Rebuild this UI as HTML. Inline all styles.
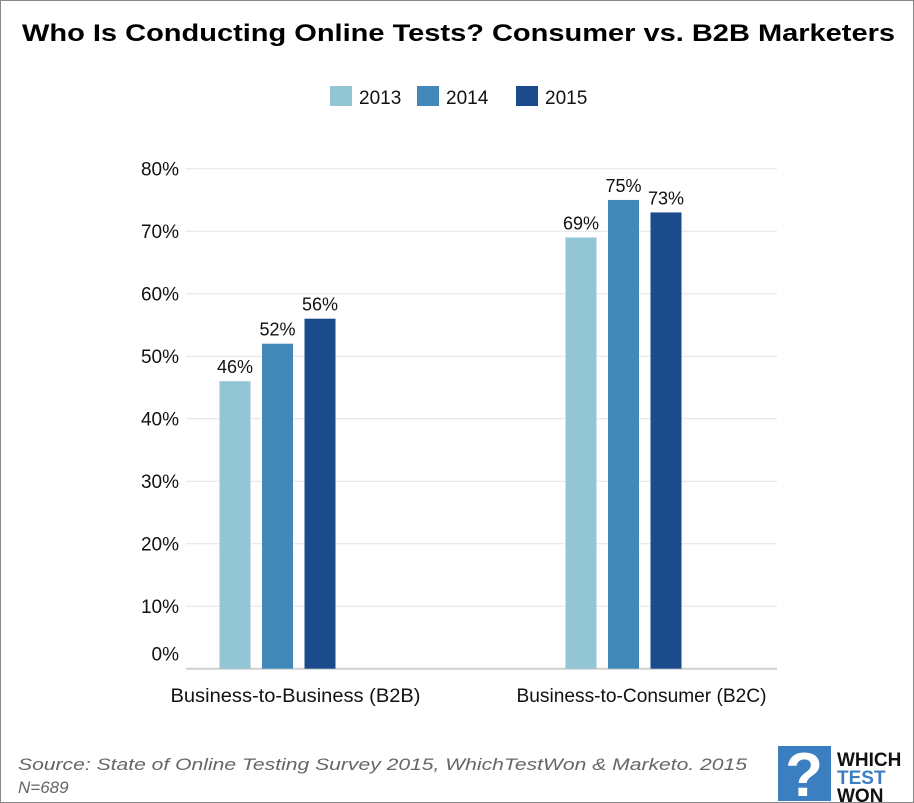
<!DOCTYPE html>
<html><head><meta charset="utf-8"><style>
body{margin:0;background:#fff;}
#wrap{position:relative;width:912px;height:801px;border:1px solid #888;overflow:hidden;font-family:"Liberation Sans",sans-serif;}
</style></head><body>
<div id="wrap">
<svg width="912" height="801">
<text x="21" y="40" textLength="873" lengthAdjust="spacingAndGlyphs" font-size="24" font-weight="bold" fill="#000">Who Is Conducting Online Tests? Consumer vs. B2B Marketers</text>
<g id="legend"></g>
<g id="grid"></g><g id="bars"></g>
<text x="17" y="769" textLength="729" lengthAdjust="spacingAndGlyphs" font-size="17" font-style="italic" fill="#666">Source: State of Online Testing Survey 2015, WhichTestWon &amp; Marketo.   2015</text>
<text x="17" y="792" font-size="17" font-style="italic" fill="#666">N=689</text>
<g>
<rect x="777" y="745" width="53" height="55" fill="#3b7fc0"/>
<text x="803" y="795" text-anchor="middle" font-size="62" font-weight="bold" fill="#fff">?</text>
<text x="836" y="765" font-size="19" font-weight="bold" fill="#111">WHICH</text>
<text x="836" y="783" font-size="19" font-weight="bold" fill="#3b7fc0">TEST</text>
<text x="836" y="801" font-size="19" font-weight="bold" fill="#111">WON</text>
</g>
</svg>
</div>
<script>
const categories=["Business-to-Business (B2B)","Business-to-Consumer (B2C)"];
const seriesNames=["2013","2014","2015"];
const v2013=[46,69];
const v2014=[52,75];
const v2015=[56,73];
const yTicks=[0,10,20,30,40,50,60,70,80];
const colors=["#93c6d4","#4288b8","#1b4b8a"];
const NS="http://www.w3.org/2000/svg";
const series=[v2013,v2014,v2015];
const y=v=>667.7-v*6.25;
const xc=i=>276.5+i*346;
function mk(tag,attrs,parent,txt){const e=document.createElementNS(NS,tag);for(const k in attrs)e.setAttribute(k,attrs[k]);if(txt!=null)e.textContent=txt;parent.appendChild(e);return e;}
const grid=document.getElementById('grid'),bars=document.getElementById('bars'),leg=document.getElementById('legend');
yTicks.forEach(t=>{
 const l=mk('line',{x1:185,x2:776,y1:y(t),y2:y(t),stroke:t===0?'#d0d0d0':'#e4e4e4','stroke-width':t===0?2:1},grid);
 
 
 const tx=mk('text',{x:178,y:(t===0?y(t)-15:y(t))+7,'text-anchor':'end','font-size':19,fill:'#111'},grid,t+'%');
 
 
});
categories.forEach((c,i)=>{
 const tx=mk('text',{x:xc(i)+18,y:701,'text-anchor':'middle','font-size':19,fill:'#111',textLength:250,lengthAdjust:'spacingAndGlyphs'},grid,c);
 
 
 series.forEach((s,j)=>{
  const x=xc(i)+(j-1)*42.5-15.5;
  const r=mk('rect',{x:x,y:y(s[i]),width:31,height:y(0)-y(s[i]),fill:colors[j]},bars);
  
  
  const lb=mk('text',{x:x+15.5,y:y(s[i])-8,'text-anchor':'middle','font-size':18,fill:'#111'},bars,s[i]+'%');
  
  
 });
});
const lx=[329,416,515];
seriesNames.forEach((n,j)=>{
 const g=mk('g',{},leg);
 
 
 mk('rect',{x:lx[j],y:85,width:22,height:20,fill:colors[j]},g);
 mk('text',{x:lx[j]+29,y:103,'font-size':19,fill:'#111'},g,n);
});
</script>
</body></html>
